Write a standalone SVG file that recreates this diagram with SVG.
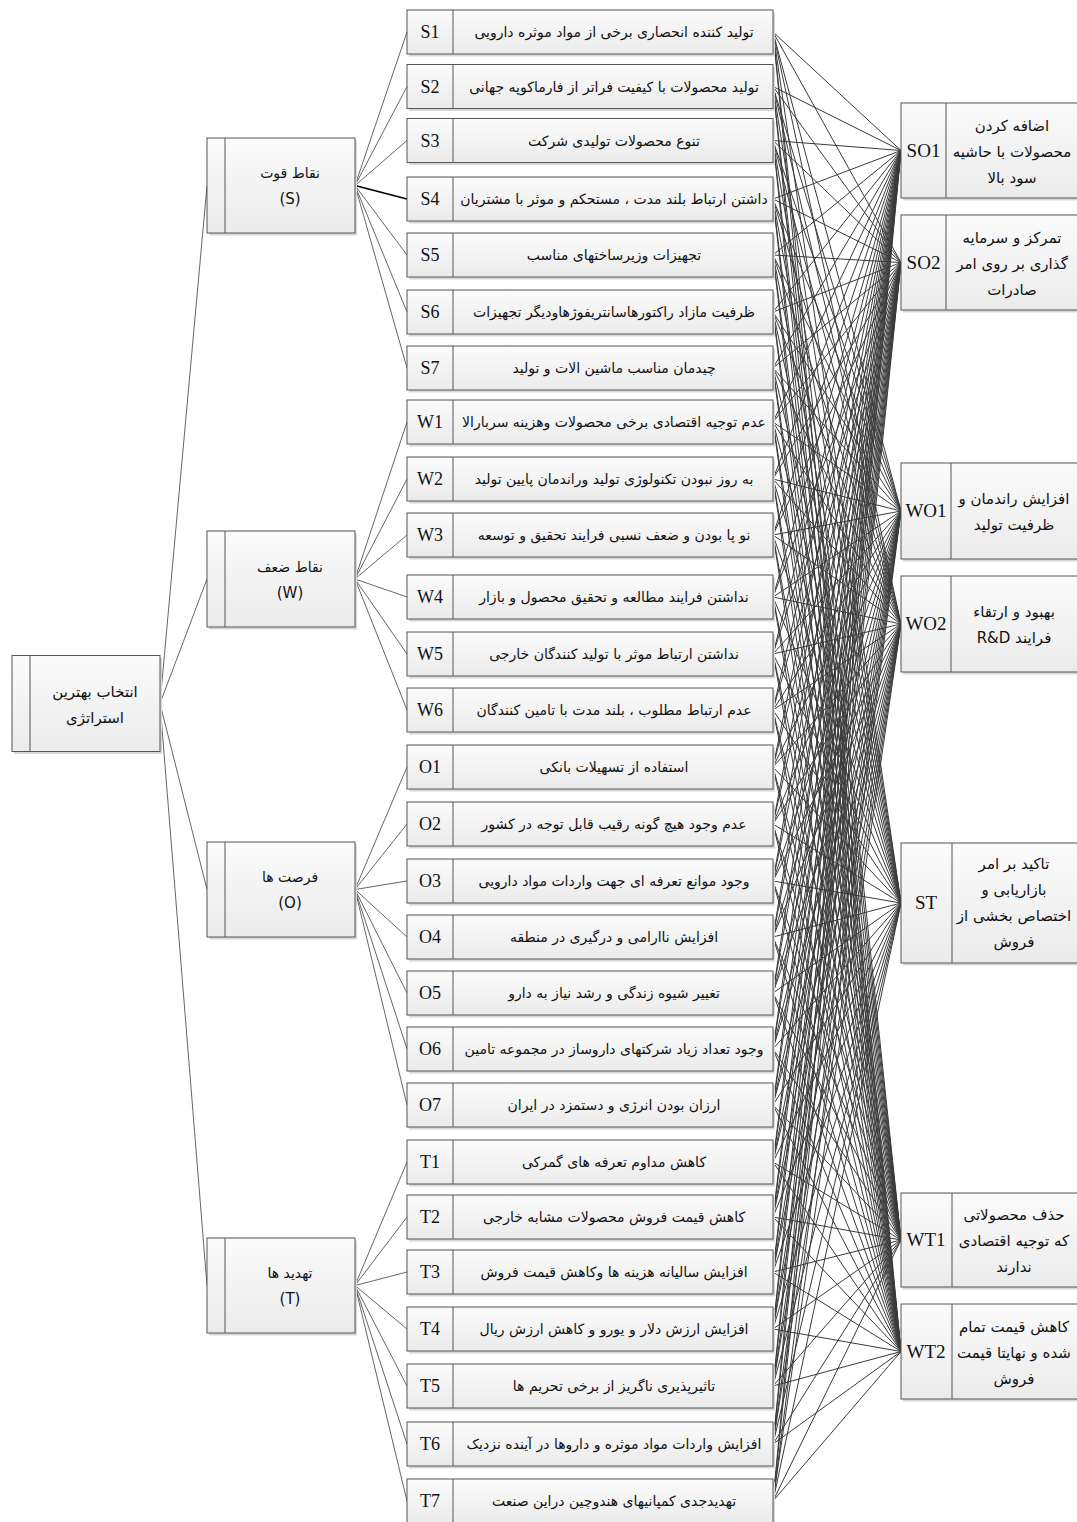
<svg xmlns="http://www.w3.org/2000/svg" width="1077" height="1522" viewBox="0 0 1077 1522">
<defs>
<linearGradient id="bg" x1="0" y1="0" x2="0" y2="1">
<stop offset="0" stop-color="#fbfbfb"/>
<stop offset="1" stop-color="#ebebeb"/>
</linearGradient>
<style>
.box{fill:url(#bg);stroke:#555;stroke-width:1}
.sh{fill:#d8d8d8}
.dv{stroke:#555;stroke-width:1}
.fa{font-family:"DejaVu Sans",sans-serif;font-size:14px;fill:#111;text-anchor:middle;direction:rtl}
.fb{font-family:"DejaVu Sans",sans-serif;font-size:15px;fill:#111;text-anchor:middle;direction:rtl}
.cd{font-family:"Liberation Serif",serif;font-size:18px;fill:#111;text-anchor:middle}
.ce{font-family:"Liberation Serif",serif;font-size:19px;fill:#111;text-anchor:middle}
.cn line{stroke:#3a3a3a;stroke-width:1}
.ln line{stroke:#555;stroke-width:0.9}
</style>
</defs>
<rect width="1077" height="1522" fill="#fff"/>

<g class="cn" id="connectors">
<g class="ln">
<line x1="160" y1="703.5" x2="207" y2="185.5"/>
<line x1="160" y1="703.5" x2="207" y2="579"/>
<line x1="160" y1="703.5" x2="207" y2="889.5"/>
<line x1="160" y1="703.5" x2="207" y2="1285.5"/>
<line x1="355" y1="185.5" x2="407" y2="32"/>
<line x1="355" y1="185.5" x2="407" y2="86.5"/>
<line x1="355" y1="185.5" x2="407" y2="140.5"/>
<line x1="355" y1="185.5" x2="407" y2="199" style="stroke:#000;stroke-width:1.8"/>
<line x1="355" y1="185.5" x2="407" y2="255"/>
<line x1="355" y1="185.5" x2="407" y2="312"/>
<line x1="355" y1="185.5" x2="407" y2="368"/>
<line x1="355" y1="579" x2="407" y2="422"/>
<line x1="355" y1="579" x2="407" y2="479"/>
<line x1="355" y1="579" x2="407" y2="535"/>
<line x1="355" y1="579" x2="407" y2="597"/>
<line x1="355" y1="579" x2="407" y2="654"/>
<line x1="355" y1="579" x2="407" y2="710"/>
<line x1="355" y1="889.5" x2="407" y2="767"/>
<line x1="355" y1="889.5" x2="407" y2="824"/>
<line x1="355" y1="889.5" x2="407" y2="881"/>
<line x1="355" y1="889.5" x2="407" y2="937"/>
<line x1="355" y1="889.5" x2="407" y2="993"/>
<line x1="355" y1="889.5" x2="407" y2="1049"/>
<line x1="355" y1="889.5" x2="407" y2="1105"/>
<line x1="355" y1="1285.5" x2="407" y2="1162"/>
<line x1="355" y1="1285.5" x2="407" y2="1217"/>
<line x1="355" y1="1285.5" x2="407" y2="1272"/>
<line x1="355" y1="1285.5" x2="407" y2="1329"/>
<line x1="355" y1="1285.5" x2="407" y2="1386"/>
<line x1="355" y1="1285.5" x2="407" y2="1444"/>
<line x1="355" y1="1285.5" x2="407" y2="1501"/>
</g>
<g id="toSO1">
<line x1="773" y1="32" x2="901" y2="150.5"/><line x1="773" y1="86.5" x2="901" y2="150.5"/><line x1="773" y1="140.5" x2="901" y2="150.5"/><line x1="773" y1="199" x2="901" y2="150.5"/><line x1="773" y1="255" x2="901" y2="150.5"/><line x1="773" y1="312" x2="901" y2="150.5"/><line x1="773" y1="368" x2="901" y2="150.5"/><line x1="773" y1="422" x2="901" y2="150.5"/><line x1="773" y1="479" x2="901" y2="150.5"/><line x1="773" y1="535" x2="901" y2="150.5"/><line x1="773" y1="597" x2="901" y2="150.5"/><line x1="773" y1="654" x2="901" y2="150.5"/><line x1="773" y1="710" x2="901" y2="150.5"/><line x1="773" y1="767" x2="901" y2="150.5"/><line x1="773" y1="824" x2="901" y2="150.5"/><line x1="773" y1="881" x2="901" y2="150.5"/><line x1="773" y1="937" x2="901" y2="150.5"/><line x1="773" y1="993" x2="901" y2="150.5"/><line x1="773" y1="1049" x2="901" y2="150.5"/><line x1="773" y1="1105" x2="901" y2="150.5"/><line x1="773" y1="1162" x2="901" y2="150.5"/><line x1="773" y1="1217" x2="901" y2="150.5"/><line x1="773" y1="1272" x2="901" y2="150.5"/><line x1="773" y1="1329" x2="901" y2="150.5"/><line x1="773" y1="1386" x2="901" y2="150.5"/><line x1="773" y1="1444" x2="901" y2="150.5"/><line x1="773" y1="1501" x2="901" y2="150.5"/>
</g>
<g id="toSO2">
<line x1="773" y1="32" x2="901" y2="262.5"/><line x1="773" y1="86.5" x2="901" y2="262.5"/><line x1="773" y1="140.5" x2="901" y2="262.5"/><line x1="773" y1="199" x2="901" y2="262.5"/><line x1="773" y1="255" x2="901" y2="262.5"/><line x1="773" y1="312" x2="901" y2="262.5"/><line x1="773" y1="368" x2="901" y2="262.5"/><line x1="773" y1="422" x2="901" y2="262.5"/><line x1="773" y1="479" x2="901" y2="262.5"/><line x1="773" y1="535" x2="901" y2="262.5"/><line x1="773" y1="597" x2="901" y2="262.5"/><line x1="773" y1="654" x2="901" y2="262.5"/><line x1="773" y1="710" x2="901" y2="262.5"/><line x1="773" y1="767" x2="901" y2="262.5"/><line x1="773" y1="824" x2="901" y2="262.5"/><line x1="773" y1="881" x2="901" y2="262.5"/><line x1="773" y1="937" x2="901" y2="262.5"/><line x1="773" y1="993" x2="901" y2="262.5"/><line x1="773" y1="1049" x2="901" y2="262.5"/><line x1="773" y1="1105" x2="901" y2="262.5"/><line x1="773" y1="1162" x2="901" y2="262.5"/><line x1="773" y1="1217" x2="901" y2="262.5"/><line x1="773" y1="1272" x2="901" y2="262.5"/><line x1="773" y1="1329" x2="901" y2="262.5"/><line x1="773" y1="1386" x2="901" y2="262.5"/><line x1="773" y1="1444" x2="901" y2="262.5"/><line x1="773" y1="1501" x2="901" y2="262.5"/>
</g>
<g id="toWO1">
<line x1="773" y1="32" x2="901" y2="511"/><line x1="773" y1="86.5" x2="901" y2="511"/><line x1="773" y1="140.5" x2="901" y2="511"/><line x1="773" y1="199" x2="901" y2="511"/><line x1="773" y1="255" x2="901" y2="511"/><line x1="773" y1="312" x2="901" y2="511"/><line x1="773" y1="368" x2="901" y2="511"/><line x1="773" y1="422" x2="901" y2="511"/><line x1="773" y1="479" x2="901" y2="511"/><line x1="773" y1="535" x2="901" y2="511"/><line x1="773" y1="597" x2="901" y2="511"/><line x1="773" y1="654" x2="901" y2="511"/><line x1="773" y1="710" x2="901" y2="511"/><line x1="773" y1="767" x2="901" y2="511"/><line x1="773" y1="824" x2="901" y2="511"/><line x1="773" y1="881" x2="901" y2="511"/><line x1="773" y1="937" x2="901" y2="511"/><line x1="773" y1="993" x2="901" y2="511"/><line x1="773" y1="1049" x2="901" y2="511"/><line x1="773" y1="1105" x2="901" y2="511"/><line x1="773" y1="1162" x2="901" y2="511"/><line x1="773" y1="1217" x2="901" y2="511"/><line x1="773" y1="1272" x2="901" y2="511"/><line x1="773" y1="1329" x2="901" y2="511"/><line x1="773" y1="1386" x2="901" y2="511"/><line x1="773" y1="1444" x2="901" y2="511"/><line x1="773" y1="1501" x2="901" y2="511"/>
</g>
<g id="toWO2">
<line x1="773" y1="32" x2="901" y2="624"/><line x1="773" y1="86.5" x2="901" y2="624"/><line x1="773" y1="140.5" x2="901" y2="624"/><line x1="773" y1="199" x2="901" y2="624"/><line x1="773" y1="255" x2="901" y2="624"/><line x1="773" y1="312" x2="901" y2="624"/><line x1="773" y1="368" x2="901" y2="624"/><line x1="773" y1="422" x2="901" y2="624"/><line x1="773" y1="479" x2="901" y2="624"/><line x1="773" y1="535" x2="901" y2="624"/><line x1="773" y1="597" x2="901" y2="624"/><line x1="773" y1="654" x2="901" y2="624"/><line x1="773" y1="710" x2="901" y2="624"/><line x1="773" y1="767" x2="901" y2="624"/><line x1="773" y1="824" x2="901" y2="624"/><line x1="773" y1="881" x2="901" y2="624"/><line x1="773" y1="937" x2="901" y2="624"/><line x1="773" y1="993" x2="901" y2="624"/><line x1="773" y1="1049" x2="901" y2="624"/><line x1="773" y1="1105" x2="901" y2="624"/><line x1="773" y1="1162" x2="901" y2="624"/><line x1="773" y1="1217" x2="901" y2="624"/><line x1="773" y1="1272" x2="901" y2="624"/><line x1="773" y1="1329" x2="901" y2="624"/><line x1="773" y1="1386" x2="901" y2="624"/><line x1="773" y1="1444" x2="901" y2="624"/><line x1="773" y1="1501" x2="901" y2="624"/>
</g>
<g id="toST">
<line x1="773" y1="32" x2="901" y2="903"/><line x1="773" y1="86.5" x2="901" y2="903"/><line x1="773" y1="140.5" x2="901" y2="903"/><line x1="773" y1="199" x2="901" y2="903"/><line x1="773" y1="255" x2="901" y2="903"/><line x1="773" y1="312" x2="901" y2="903"/><line x1="773" y1="368" x2="901" y2="903"/><line x1="773" y1="422" x2="901" y2="903"/><line x1="773" y1="479" x2="901" y2="903"/><line x1="773" y1="535" x2="901" y2="903"/><line x1="773" y1="597" x2="901" y2="903"/><line x1="773" y1="654" x2="901" y2="903"/><line x1="773" y1="710" x2="901" y2="903"/><line x1="773" y1="767" x2="901" y2="903"/><line x1="773" y1="824" x2="901" y2="903"/><line x1="773" y1="881" x2="901" y2="903"/><line x1="773" y1="937" x2="901" y2="903"/><line x1="773" y1="993" x2="901" y2="903"/><line x1="773" y1="1049" x2="901" y2="903"/><line x1="773" y1="1105" x2="901" y2="903"/><line x1="773" y1="1162" x2="901" y2="903"/><line x1="773" y1="1217" x2="901" y2="903"/><line x1="773" y1="1272" x2="901" y2="903"/><line x1="773" y1="1329" x2="901" y2="903"/><line x1="773" y1="1386" x2="901" y2="903"/><line x1="773" y1="1444" x2="901" y2="903"/><line x1="773" y1="1501" x2="901" y2="903"/>
</g>
<g id="toWT1">
<line x1="773" y1="32" x2="901" y2="1240"/><line x1="773" y1="86.5" x2="901" y2="1240"/><line x1="773" y1="140.5" x2="901" y2="1240"/><line x1="773" y1="199" x2="901" y2="1240"/><line x1="773" y1="255" x2="901" y2="1240"/><line x1="773" y1="312" x2="901" y2="1240"/><line x1="773" y1="368" x2="901" y2="1240"/><line x1="773" y1="422" x2="901" y2="1240"/><line x1="773" y1="479" x2="901" y2="1240"/><line x1="773" y1="535" x2="901" y2="1240"/><line x1="773" y1="597" x2="901" y2="1240"/><line x1="773" y1="654" x2="901" y2="1240"/><line x1="773" y1="710" x2="901" y2="1240"/><line x1="773" y1="767" x2="901" y2="1240"/><line x1="773" y1="824" x2="901" y2="1240"/><line x1="773" y1="881" x2="901" y2="1240"/><line x1="773" y1="937" x2="901" y2="1240"/><line x1="773" y1="993" x2="901" y2="1240"/><line x1="773" y1="1049" x2="901" y2="1240"/><line x1="773" y1="1105" x2="901" y2="1240"/><line x1="773" y1="1162" x2="901" y2="1240"/><line x1="773" y1="1217" x2="901" y2="1240"/><line x1="773" y1="1272" x2="901" y2="1240"/><line x1="773" y1="1329" x2="901" y2="1240"/><line x1="773" y1="1386" x2="901" y2="1240"/><line x1="773" y1="1444" x2="901" y2="1240"/><line x1="773" y1="1501" x2="901" y2="1240"/>
</g>
<g id="toWT2">
<line x1="773" y1="32" x2="901" y2="1351.5"/><line x1="773" y1="86.5" x2="901" y2="1351.5"/><line x1="773" y1="140.5" x2="901" y2="1351.5"/><line x1="773" y1="199" x2="901" y2="1351.5"/><line x1="773" y1="255" x2="901" y2="1351.5"/><line x1="773" y1="312" x2="901" y2="1351.5"/><line x1="773" y1="368" x2="901" y2="1351.5"/><line x1="773" y1="422" x2="901" y2="1351.5"/><line x1="773" y1="479" x2="901" y2="1351.5"/><line x1="773" y1="535" x2="901" y2="1351.5"/><line x1="773" y1="597" x2="901" y2="1351.5"/><line x1="773" y1="654" x2="901" y2="1351.5"/><line x1="773" y1="710" x2="901" y2="1351.5"/><line x1="773" y1="767" x2="901" y2="1351.5"/><line x1="773" y1="824" x2="901" y2="1351.5"/><line x1="773" y1="881" x2="901" y2="1351.5"/><line x1="773" y1="937" x2="901" y2="1351.5"/><line x1="773" y1="993" x2="901" y2="1351.5"/><line x1="773" y1="1049" x2="901" y2="1351.5"/><line x1="773" y1="1105" x2="901" y2="1351.5"/><line x1="773" y1="1162" x2="901" y2="1351.5"/><line x1="773" y1="1217" x2="901" y2="1351.5"/><line x1="773" y1="1272" x2="901" y2="1351.5"/><line x1="773" y1="1329" x2="901" y2="1351.5"/><line x1="773" y1="1386" x2="901" y2="1351.5"/><line x1="773" y1="1444" x2="901" y2="1351.5"/><line x1="773" y1="1501" x2="901" y2="1351.5"/>
</g>
</g>

<!-- goal -->
<g id="goal">
<rect class="sh" x="14" y="658" width="148" height="96"/>
<rect class="box" x="12" y="655.5" width="148" height="96"/>
<line class="dv" x1="30" y1="655.5" x2="30" y2="751.5"/>
<text class="fa" x="95" y="697" style="font-size:15px">انتخاب بهترین</text>
<text class="fa" x="95" y="723" style="font-size:15px">استراتژی</text>
</g>

<!-- categories -->
<g id="catS">
<rect class="sh" x="209" y="140.5" width="148" height="95"/>
<rect class="box" x="207" y="138" width="148" height="95"/>
<line class="dv" x1="225" y1="138" x2="225" y2="233"/>
<text class="fa" x="290" y="178">نقاط قوت</text>
<text class="fa" x="290" y="204" style="font-size:15px">(S)</text>
</g>
<g id="catW">
<rect class="sh" x="209" y="533.5" width="148" height="96"/>
<rect class="box" x="207" y="531" width="148" height="96"/>
<line class="dv" x1="225" y1="531" x2="225" y2="627"/>
<text class="fa" x="290" y="572">نقاط ضعف</text>
<text class="fa" x="290" y="598" style="font-size:15px">(W)</text>
</g>
<g id="catO">
<rect class="sh" x="209" y="844.5" width="148" height="95"/>
<rect class="box" x="207" y="842" width="148" height="95"/>
<line class="dv" x1="225" y1="842" x2="225" y2="937"/>
<text class="fa" x="290" y="882">فرصت ها</text>
<text class="fa" x="290" y="908" style="font-size:15px">(O)</text>
</g>
<g id="catT">
<rect class="sh" x="209" y="1240.5" width="148" height="95"/>
<rect class="box" x="207" y="1238" width="148" height="95"/>
<line class="dv" x1="225" y1="1238" x2="225" y2="1333"/>
<text class="fa" x="290" y="1278">تهدید ها</text>
<text class="fa" x="290" y="1304" style="font-size:15px">(T)</text>
</g>

<!-- items -->
<g id="S1"><rect class="sh" x="409" y="12.5" width="366" height="44"/><rect class="box" x="407" y="10" width="366" height="44"/><line class="dv" x1="453" y1="10" x2="453" y2="54"/><text class="cd" x="430" y="38">S1</text><text class="fa" x="614" y="37">تولید کننده انحصاری برخی از مواد موثره دارویی</text></g>
<g id="S2"><rect class="sh" x="409" y="67" width="366" height="44"/><rect class="box" x="407" y="64.5" width="366" height="44"/><line class="dv" x1="453" y1="64.5" x2="453" y2="108.5"/><text class="cd" x="430" y="92.5">S2</text><text class="fa" x="614" y="91.5">تولید محصولات با کیفیت فراتر از فارماکوپه جهانی</text></g>
<g id="S3"><rect class="sh" x="409" y="121" width="366" height="44"/><rect class="box" x="407" y="118.5" width="366" height="44"/><line class="dv" x1="453" y1="118.5" x2="453" y2="162.5"/><text class="cd" x="430" y="146.5">S3</text><text class="fa" x="614" y="145.5">تنوع محصولات تولیدی شرکت</text></g>
<g id="S4"><rect class="sh" x="409" y="179.5" width="366" height="44"/><rect class="box" x="407" y="177" width="366" height="44"/><line class="dv" x1="453" y1="177" x2="453" y2="221"/><text class="cd" x="430" y="205">S4</text><text class="fa" x="614" y="204">داشتن ارتباط بلند مدت ، مستحکم و موثر با مشتریان</text></g>
<g id="S5"><rect class="sh" x="409" y="235.5" width="366" height="44"/><rect class="box" x="407" y="233" width="366" height="44"/><line class="dv" x1="453" y1="233" x2="453" y2="277"/><text class="cd" x="430" y="261">S5</text><text class="fa" x="614" y="260">تجهیزات وزیرساختهای مناسب</text></g>
<g id="S6"><rect class="sh" x="409" y="292.5" width="366" height="44"/><rect class="box" x="407" y="290" width="366" height="44"/><line class="dv" x1="453" y1="290" x2="453" y2="334"/><text class="cd" x="430" y="318">S6</text><text class="fa" x="614" y="317">ظرفیت مازاد راکتورهاسانتریفوژهاودیگر  تجهیزات</text></g>
<g id="S7"><rect class="sh" x="409" y="348.5" width="366" height="44"/><rect class="box" x="407" y="346" width="366" height="44"/><line class="dv" x1="453" y1="346" x2="453" y2="390"/><text class="cd" x="430" y="374">S7</text><text class="fa" x="614" y="373">چیدمان مناسب ماشین الات و تولید</text></g>
<g id="W1"><rect class="sh" x="409" y="402.5" width="366" height="44"/><rect class="box" x="407" y="400" width="366" height="44"/><line class="dv" x1="453" y1="400" x2="453" y2="444"/><text class="cd" x="430" y="428">W1</text><text class="fa" x="614" y="427">عدم توجیه اقتصادی برخی محصولات وهزینه سربارالا</text></g>
<g id="W2"><rect class="sh" x="409" y="459.5" width="366" height="44"/><rect class="box" x="407" y="457" width="366" height="44"/><line class="dv" x1="453" y1="457" x2="453" y2="501"/><text class="cd" x="430" y="485">W2</text><text class="fa" x="614" y="484">به روز نبودن تکنولوژی تولید وراندمان پایین تولید</text></g>
<g id="W3"><rect class="sh" x="409" y="515.5" width="366" height="44"/><rect class="box" x="407" y="513" width="366" height="44"/><line class="dv" x1="453" y1="513" x2="453" y2="557"/><text class="cd" x="430" y="541">W3</text><text class="fa" x="614" y="540">نو پا بودن و ضعف نسبی فرایند تحقیق و توسعه</text></g>
<g id="W4"><rect class="sh" x="409" y="577.5" width="366" height="44"/><rect class="box" x="407" y="575" width="366" height="44"/><line class="dv" x1="453" y1="575" x2="453" y2="619"/><text class="cd" x="430" y="603">W4</text><text class="fa" x="614" y="602">نداشتن فرایند مطالعه و تحقیق محصول و بازار</text></g>
<g id="W5"><rect class="sh" x="409" y="634.5" width="366" height="44"/><rect class="box" x="407" y="632" width="366" height="44"/><line class="dv" x1="453" y1="632" x2="453" y2="676"/><text class="cd" x="430" y="660">W5</text><text class="fa" x="614" y="659">نداشتن ارتباط موثر با تولید کنندگان خارجی</text></g>
<g id="W6"><rect class="sh" x="409" y="690.5" width="366" height="44"/><rect class="box" x="407" y="688" width="366" height="44"/><line class="dv" x1="453" y1="688" x2="453" y2="732"/><text class="cd" x="430" y="716">W6</text><text class="fa" x="614" y="715">عدم ارتباط مطلوب ، بلند مدت با تامین کنندگان</text></g>
<g id="O1"><rect class="sh" x="409" y="747.5" width="366" height="44"/><rect class="box" x="407" y="745" width="366" height="44"/><line class="dv" x1="453" y1="745" x2="453" y2="789"/><text class="cd" x="430" y="773">O1</text><text class="fa" x="614" y="772">استفاده از تسهیلات بانکی</text></g>
<g id="O2"><rect class="sh" x="409" y="804.5" width="366" height="44"/><rect class="box" x="407" y="802" width="366" height="44"/><line class="dv" x1="453" y1="802" x2="453" y2="846"/><text class="cd" x="430" y="830">O2</text><text class="fa" x="614" y="829">عدم وجود هیچ گونه رقیب قابل توجه در کشور</text></g>
<g id="O3"><rect class="sh" x="409" y="861.5" width="366" height="44"/><rect class="box" x="407" y="859" width="366" height="44"/><line class="dv" x1="453" y1="859" x2="453" y2="903"/><text class="cd" x="430" y="887">O3</text><text class="fa" x="614" y="886">وجود موانع تعرفه ای جهت واردات مواد دارویی</text></g>
<g id="O4"><rect class="sh" x="409" y="917.5" width="366" height="44"/><rect class="box" x="407" y="915" width="366" height="44"/><line class="dv" x1="453" y1="915" x2="453" y2="959"/><text class="cd" x="430" y="943">O4</text><text class="fa" x="614" y="942">افزایش ناارامی و درگیری در منطقه</text></g>
<g id="O5"><rect class="sh" x="409" y="973.5" width="366" height="44"/><rect class="box" x="407" y="971" width="366" height="44"/><line class="dv" x1="453" y1="971" x2="453" y2="1015"/><text class="cd" x="430" y="999">O5</text><text class="fa" x="614" y="998">تغییر شیوه زندگی و رشد  نیاز به دارو</text></g>
<g id="O6"><rect class="sh" x="409" y="1029.5" width="366" height="44"/><rect class="box" x="407" y="1027" width="366" height="44"/><line class="dv" x1="453" y1="1027" x2="453" y2="1071"/><text class="cd" x="430" y="1055">O6</text><text class="fa" x="614" y="1054">وجود تعداد زیاد شرکتهای داروساز در مجموعه تامین</text></g>
<g id="O7"><rect class="sh" x="409" y="1085.5" width="366" height="44"/><rect class="box" x="407" y="1083" width="366" height="44"/><line class="dv" x1="453" y1="1083" x2="453" y2="1127"/><text class="cd" x="430" y="1111">O7</text><text class="fa" x="614" y="1110">ارزان بودن انرژی و دستمزد در ایران</text></g>
<g id="T1"><rect class="sh" x="409" y="1142.5" width="366" height="44"/><rect class="box" x="407" y="1140" width="366" height="44"/><line class="dv" x1="453" y1="1140" x2="453" y2="1184"/><text class="cd" x="430" y="1168">T1</text><text class="fa" x="614" y="1167">کاهش مداوم تعرفه های گمرکی</text></g>
<g id="T2"><rect class="sh" x="409" y="1197.5" width="366" height="44"/><rect class="box" x="407" y="1195" width="366" height="44"/><line class="dv" x1="453" y1="1195" x2="453" y2="1239"/><text class="cd" x="430" y="1223">T2</text><text class="fa" x="614" y="1222">کاهش قیمت فروش محصولات مشابه خارجی</text></g>
<g id="T3"><rect class="sh" x="409" y="1252.5" width="366" height="44"/><rect class="box" x="407" y="1250" width="366" height="44"/><line class="dv" x1="453" y1="1250" x2="453" y2="1294"/><text class="cd" x="430" y="1278">T3</text><text class="fa" x="614" y="1277">افزایش سالیانه هزینه ها وکاهش قیمت فروش</text></g>
<g id="T4"><rect class="sh" x="409" y="1309.5" width="366" height="44"/><rect class="box" x="407" y="1307" width="366" height="44"/><line class="dv" x1="453" y1="1307" x2="453" y2="1351"/><text class="cd" x="430" y="1335">T4</text><text class="fa" x="614" y="1334">افزایش ارزش دلار و یورو و کاهش ارزش ریال</text></g>
<g id="T5"><rect class="sh" x="409" y="1366.5" width="366" height="44"/><rect class="box" x="407" y="1364" width="366" height="44"/><line class="dv" x1="453" y1="1364" x2="453" y2="1408"/><text class="cd" x="430" y="1392">T5</text><text class="fa" x="614" y="1391">تاثیرپذیری ناگریز از برخی تحریم ها</text></g>
<g id="T6"><rect class="sh" x="409" y="1424.5" width="366" height="44"/><rect class="box" x="407" y="1422" width="366" height="44"/><line class="dv" x1="453" y1="1422" x2="453" y2="1466"/><text class="cd" x="430" y="1450">T6</text><text class="fa" x="614" y="1449">افزایش واردات مواد موثره و داروها در آینده نزدیک</text></g>
<g id="T7"><rect class="sh" x="409" y="1481.5" width="366" height="44"/><rect class="box" x="407" y="1479" width="366" height="44"/><line class="dv" x1="453" y1="1479" x2="453" y2="1523"/><text class="cd" x="430" y="1507">T7</text><text class="fa" x="614" y="1506">تهدیدجدی کمپانیهای هندوچین دراین صنعت</text></g>

<!-- strategies -->
<g id="SO1"><rect class="sh" x="903" y="105.5" width="190" height="95"/><rect class="box" x="901" y="103" width="190" height="95"/><line class="dv" x1="946" y1="103" x2="946" y2="198"/><text class="ce" x="923.5" y="157">SO1</text><text class="fb" x="1012" y="131">اضافه کردن</text><text class="fb" x="1012" y="157">محصولات با حاشیه</text><text class="fb" x="1012" y="183">سود بالا</text></g>
<g id="SO2"><rect class="sh" x="903" y="217.5" width="190" height="95"/><rect class="box" x="901" y="215" width="190" height="95"/><line class="dv" x1="946" y1="215" x2="946" y2="310"/><text class="ce" x="923.5" y="269">SO2</text><text class="fb" x="1012" y="243">تمرکز و سرمایه</text><text class="fb" x="1012" y="269">گذاری بر روی امر</text><text class="fb" x="1012" y="295">صادرات</text></g>
<g id="WO1"><rect class="sh" x="903" y="465.5" width="190" height="96"/><rect class="box" x="901" y="463" width="190" height="96"/><line class="dv" x1="951" y1="463" x2="951" y2="559"/><text class="ce" x="926" y="517">WO1</text><text class="fb" x="1014" y="504">افزایش راندمان و</text><text class="fb" x="1014" y="530">ظرفیت تولید</text></g>
<g id="WO2"><rect class="sh" x="903" y="578.5" width="190" height="96"/><rect class="box" x="901" y="576" width="190" height="96"/><line class="dv" x1="951" y1="576" x2="951" y2="672"/><text class="ce" x="926" y="630">WO2</text><text class="fb" x="1014" y="617">بهبود و ارتقاء</text><text class="fb" x="1014" y="643">فرایند R&amp;D</text></g>
<g id="ST"><rect class="sh" x="903" y="845.5" width="190" height="120"/><rect class="box" x="901" y="843" width="190" height="120"/><line class="dv" x1="952" y1="843" x2="952" y2="963"/><text class="ce" x="926" y="909">ST</text><text class="fb" x="1014" y="869">تاکید بر امر</text><text class="fb" x="1014" y="895">بازاریابی و</text><text class="fb" x="1014" y="921">اختصاص بخشی از</text><text class="fb" x="1014" y="947">فروش</text></g>
<g id="WT1"><rect class="sh" x="903" y="1195.5" width="190" height="94"/><rect class="box" x="901" y="1193" width="190" height="94"/><line class="dv" x1="952" y1="1193" x2="952" y2="1287"/><text class="ce" x="926" y="1246">WT1</text><text class="fb" x="1014" y="1220">حذف محصولاتی</text><text class="fb" x="1014" y="1246">که توجیه اقتصادی</text><text class="fb" x="1014" y="1272">ندارند</text></g>
<g id="WT2"><rect class="sh" x="903" y="1306.5" width="190" height="95"/><rect class="box" x="901" y="1304" width="190" height="95"/><line class="dv" x1="952" y1="1304" x2="952" y2="1399"/><text class="ce" x="926" y="1358">WT2</text><text class="fb" x="1014" y="1332">کاهش قیمت تمام</text><text class="fb" x="1014" y="1358">شده و نهایتا قیمت</text><text class="fb" x="1014" y="1384">فروش</text></g>
</svg>
